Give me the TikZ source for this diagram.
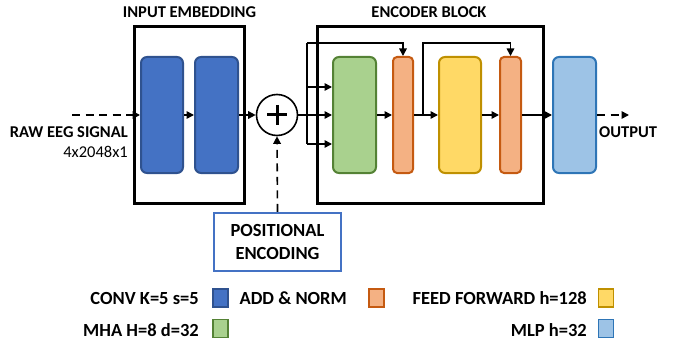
\documentclass[tikz,border=0pt]{standalone}
\usepackage{fontspec}
\setmainfont{Carlito}
\usetikzlibrary{arrows.meta,calc}

\definecolor{convfill}{HTML}{4472C4}
\definecolor{convdraw}{HTML}{2F528F}
\definecolor{mhafill}{HTML}{A9D18E}
\definecolor{mhadraw}{HTML}{548235}
\definecolor{normfill}{HTML}{F4B183}
\definecolor{normdraw}{HTML}{C55A11}
\definecolor{fffill}{HTML}{FFD966}
\definecolor{ffdraw}{HTML}{BF9000}
\definecolor{mlpfill}{HTML}{9DC3E6}
\definecolor{mlpdraw}{HTML}{2E75B6}

\begin{document}
\begin{tikzpicture}[x=1pt,y=-1pt,
  frame/.style={draw, line width=3pt, inner sep=0pt},
  block/.style={draw, line width=2pt, rounded corners=6pt, minimum height=116pt, inner sep=0pt},
  normblock/.style={block, rounded corners=4pt},
  title/.style={font=\fontsize{16.5}{19}\selectfont\bfseries, inner sep=0pt},
  plain/.style={font=\fontsize{16.5}{19}\selectfont, inner sep=0pt},
  legtext/.style={font=\fontsize{18.5}{22.6}\selectfont\bfseries, inner sep=0pt, anchor=base east},
  legbox/.style={draw, line width=1.2pt, minimum width=15pt, minimum height=18pt, inner sep=0pt},
  link/.style={line width=1.6pt},
  arr/.style={link, -{Triangle[length=7.5pt,width=7.5pt]}},
  dasharr/.style={arr, dash pattern=on 8pt off 5.5pt}]
\useasboundingbox (0,0) rectangle (673,345);

% framing boxes
\node[frame, minimum width=110pt, minimum height=176pt] (embed) at (189,115) {};
\node[frame, minimum width=226pt, minimum height=176pt] (encoder) at (430,115) {};
\node[title, anchor=base] (embedtitle) at (189.5,17.5) {INPUT EMBEDDING};
\node[title, anchor=base] (enctitle) at (429,17.5) {ENCODER BLOCK};

% layers
\node[block, fill=convfill, draw=convdraw, minimum width=42pt] (conv1) at (162,115) {};
\node[block, fill=convfill, draw=convdraw, minimum width=43pt] (conv2) at (216.5,115) {};
\node[block, fill=mhafill, draw=mhadraw, minimum width=43pt] (mha) at (354.5,115) {};
\node[normblock, fill=normfill, draw=normdraw, minimum width=20pt] (norm1) at (403,115) {};
\node[block, fill=fffill, draw=ffdraw, minimum width=42pt] (ff) at (460,115) {};
\node[normblock, fill=normfill, draw=normdraw, minimum width=21pt] (norm2) at (510.5,115) {};
\node[block, fill=mlpfill, draw=mlpdraw, minimum width=43pt] (mlp) at (574.5,115) {};

% summation with positional encoding
\node[circle, draw, line width=1.6pt, minimum size=41pt, inner sep=0pt] (add) at (277,115) {};
\draw[line width=3pt] ($(add)+(-10,0)$) -- ($(add)+(10,0)$);
\draw[line width=3pt] ($(add)+(0,-10)$) -- ($(add)+(0,10)$);
\node[draw=convfill, line width=2.2pt, minimum width=127pt, minimum height=58pt, inner sep=0pt,
      align=center, font=\fontsize{18.5}{22.6}\selectfont\bfseries] (pe) at (277.5,242) {POSITIONAL\\ENCODING};

% input / output labels
\node[title, anchor=base east] (rawlabel) at (128,137.3) {RAW EEG SIGNAL};
\node[plain, anchor=base east] (shape) at (128,157.3) {4x2048x1};
\node[title, anchor=base west] (outlabel) at (599,137.3) {OUTPUT};
\coordinate (rawin) at (72,115);
\coordinate (outend) at (629,115);

% connectors
\draw[dasharr] (rawin) -- (conv1.west);
\draw[arr] (conv1) -- (conv2);
\draw[arr] (conv2.east) -- (add.west);
\draw[dasharr] (pe.north) -- (add.south);

\coordinate (split) at (307,115);
\coordinate (stop) at (307,43);
\coordinate (sbot) at (307,144);
\coordinate (smid) at (307,87);
\draw[link] (add.east) -- (split);
\draw[link] (stop) -- (sbot);
\draw[arr] (smid) -- (mha.west |- smid);
\draw[arr] (split) -- (mha.west);
\draw[arr] (sbot) -- (mha.west |- sbot);
\draw[arr] (stop) -| (norm1.north);

\coordinate (branch) at (423,115);
\draw[arr] (mha) -- (norm1);
\draw[arr] (norm1) -- (ff);
\draw[arr] (branch) -- (branch |- stop) -| (norm2.north);
\draw[arr] (ff) -- (norm2);
\draw[arr] (norm2) -- (mlp);
\draw[dasharr] (mlp.east) -- (outend);

% legend
\node[legtext] (lconv) at (199,304) {CONV K=5 s=5};
\node[legbox, fill=convfill, draw=convdraw] (kconv) at (220.5,298) {};
\node[legtext] (lnorm) at (347,304) {ADD \& NORM};
\node[legbox, fill=normfill, draw=normdraw] (knorm) at (376.5,298) {};
\node[legtext] (lff) at (587,304) {FEED FORWARD h=128};
\node[legbox, fill=fffill, draw=ffdraw] (kff) at (606,298) {};
\node[legtext] (lmha) at (199,336) {MHA H=8 d=32};
\node[legbox, fill=mhafill, draw=mhadraw] (kmha) at (220.5,328.5) {};
\node[legtext] (lmlp) at (587,336) {MLP h=32};
\node[legbox, fill=mlpfill, draw=mlpdraw] (kmlp) at (606,328.5) {};
\end{tikzpicture}
\end{document}
